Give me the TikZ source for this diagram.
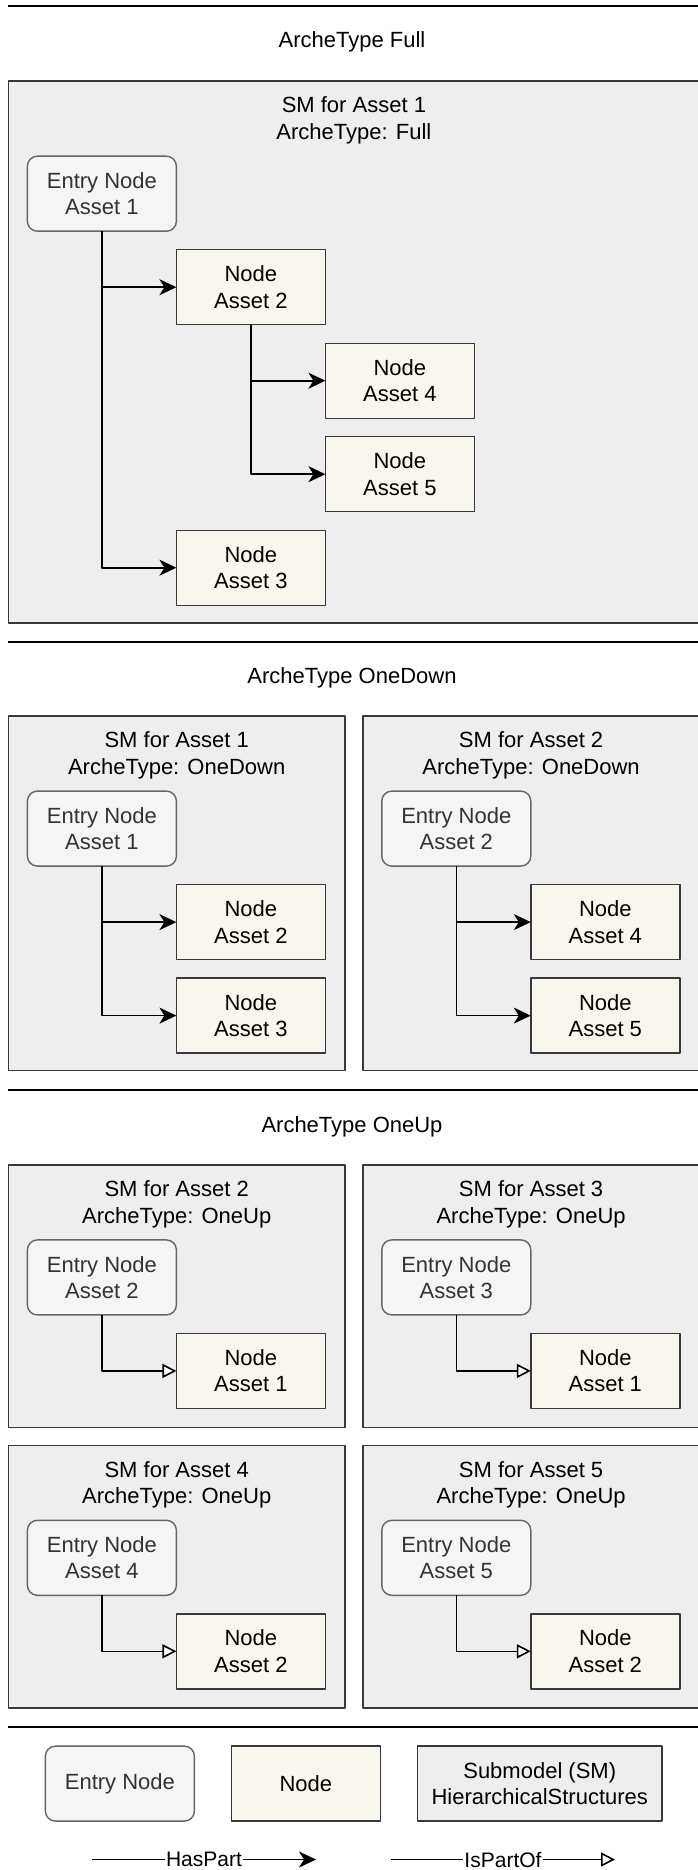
\documentclass[tikz,border=0pt]{standalone}
\usepackage{fontspec}
\setmainfont{Liberation Sans}
\usetikzlibrary{arrows.meta,positioning,calc}
\definecolor{smfill}{HTML}{EEEEEE}
\definecolor{smline}{HTML}{36393D}
\definecolor{nodefill}{HTML}{F9F7ED}
\definecolor{entryfill}{HTML}{F5F5F5}
\definecolor{entryline}{HTML}{666666}
\definecolor{entrytext}{HTML}{333333}

\begin{document}
\begin{tikzpicture}[x=1pt, y=-1pt, font=\fontsize{22}{26.4}\selectfont,
    node distance=18.5pt and 0pt, line join=round]
\tikzstyle{every node}=[outer sep=0pt, align=center]
\tikzstyle{sm}=[draw=smline, fill=smfill, line width=1.4pt, anchor=north west,
    inner sep=0pt, minimum width=336.6pt]
\tikzstyle{entry}=[draw=entryline, fill=entryfill, text=entrytext, line width=1.4pt,
    rounded corners=10pt, minimum width=149pt, minimum height=75pt, inner sep=0pt]
\tikzstyle{asset}=[draw=smline, fill=nodefill, line width=1.4pt,
    minimum width=149pt, minimum height=75pt, inner sep=0pt]
\tikzstyle{haspart}=[line width=1.6pt, -{Stealth[length=17pt, width=16pt, inset=5pt]}]
\tikzstyle{ispartof}=[line width=1.6pt, -{Triangle[open, length=14pt, width=14pt, fill=white]}]
\tikzstyle{sep}=[line width=2pt]
\tikzstyle{lbl}=[fill=white, inner sep=1pt, font=\fontsize{21}{25}\selectfont]

\useasboundingbox (0,0) rectangle (697,1870);

% ArcheType Full
\draw[sep] (8.4,6) -- (710,6);
\node (hFull) at (352,41.8) {ArcheType Full};
\node[sm, minimum width=691pt, minimum height=541.8pt] (smF) at (8.4,81.2) {};
\node (tF) at ([yshift=-39.3pt]smF.north) {SM for Asset 1\\ArcheType: Full};
\node[entry, below right=75pt and 19pt of smF.north west] (fE1) {Entry Node\\Asset 1};
\node[asset, below right=of fE1] (fA2) {Node\\Asset 2};
\node[asset, below right=of fA2] (fA4) {Node\\Asset 4};
\node[asset, below=of fA4]       (fA5) {Node\\Asset 5};
\node[asset, below left=of fA5]  (fA3) {Node\\Asset 3};
\draw[haspart] (fE1.south) |- (fA2.west);
\draw[haspart] (fE1.south) |- (fA3.west);
\draw[haspart] (fA2.south) |- (fA4.west);
\draw[haspart] (fA2.south) |- (fA5.west);

% ArcheType OneDown
\draw[sep] (8.4,642) -- (710,642);
\node (hDown) at (352,677.9) {ArcheType OneDown};
\node[sm, minimum height=354.5pt] (smD1) at (8.4,716.1) {};
\node[sm, minimum height=354.5pt] (smD2) at (362.8,716.1) {};
\node (tD1) at ([yshift=-39.3pt]smD1.north) {SM for Asset 1\\ArcheType: OneDown};
\node (tD2) at ([yshift=-39.3pt]smD2.north) {SM for Asset 2\\ArcheType: OneDown};
\node[entry, below right=75pt and 19pt of smD1.north west] (dE1) {Entry Node\\Asset 1};
\node[asset, below right=of dE1] (dA2) {Node\\Asset 2};
\node[asset, below=of dA2]       (dA3) {Node\\Asset 3};
\node[entry, below right=75pt and 19pt of smD2.north west] (dE2) {Entry Node\\Asset 2};
\node[asset, below right=of dE2] (dA4) {Node\\Asset 4};
\node[asset, below=of dA4]       (dA5) {Node\\Asset 5};
\draw[haspart] (dE1.south) |- (dA2.west);
\draw[haspart] (dE1.south) |- (dA3.west);
\draw[haspart] (dE2.south) |- (dA4.west);
\draw[haspart] (dE2.south) |- (dA5.west);

% ArcheType OneUp
\draw[sep] (8.4,1089.7) -- (710,1089.7);
\node (hUp) at (352,1126.7) {ArcheType OneUp};
\node[sm, minimum height=262.5pt] (smU2) at (8.4,1164.9) {};
\node[sm, minimum height=262.5pt] (smU3) at (362.8,1164.9) {};
\node[sm, minimum height=262.5pt] (smU4) at (8.4,1445.3) {};
\node[sm, minimum height=262.5pt] (smU5) at (362.8,1445.3) {};
\node (tU2) at ([yshift=-39.3pt]smU2.north) {SM for Asset 2\\ArcheType: OneUp};
\node (tU3) at ([yshift=-39.3pt]smU3.north) {SM for Asset 3\\ArcheType: OneUp};
\node (tU4) at ([yshift=-39.3pt]smU4.north) {SM for Asset 4\\ArcheType: OneUp};
\node (tU5) at ([yshift=-39.3pt]smU5.north) {SM for Asset 5\\ArcheType: OneUp};
\node[entry, below right=75pt and 19pt of smU2.north west] (uE2) {Entry Node\\Asset 2};
\node[asset, below right=of uE2] (uA1) {Node\\Asset 1};
\node[entry, below right=75pt and 19pt of smU3.north west] (uE3) {Entry Node\\Asset 3};
\node[asset, below right=of uE3] (uA1b) {Node\\Asset 1};
\node[entry, below right=75pt and 19pt of smU4.north west] (uE4) {Entry Node\\Asset 4};
\node[asset, below right=of uE4] (uA2) {Node\\Asset 2};
\node[entry, below right=75pt and 19pt of smU5.north west] (uE5) {Entry Node\\Asset 5};
\node[asset, below right=of uE5] (uA2b) {Node\\Asset 2};
\draw[ispartof] (uE2.south) |- (uA1.west);
\draw[ispartof] (uE3.south) |- (uA1b.west);
\draw[ispartof] (uE4.south) |- (uA2.west);
\draw[ispartof] (uE5.south) |- (uA2b.west);

% legend
\draw[sep] (8.4,1727) -- (710,1727);
\node[entry, anchor=north west] (lEntry) at (45.4,1746.1) {Entry Node};
\node[asset, right=37pt of lEntry] (lNode) {Node};
\node[asset, fill=smfill, minimum width=244.7pt, right=37pt of lNode] (lSM)
    {Submodel (SM)\\HierarchicalStructures};
\coordinate (hp1) at (92,1859.5);
\coordinate (hp2) at (316,1859.5);
\coordinate (ip1) at (391,1859.5);
\coordinate (ip2) at (615,1859.5);
\draw[haspart] (hp1) -- node[lbl] (lHas) {HasPart} (hp2);
\draw[ispartof] (ip1) -- node[lbl] (lIs) {IsPartOf} (ip2);
\end{tikzpicture}
\end{document}
